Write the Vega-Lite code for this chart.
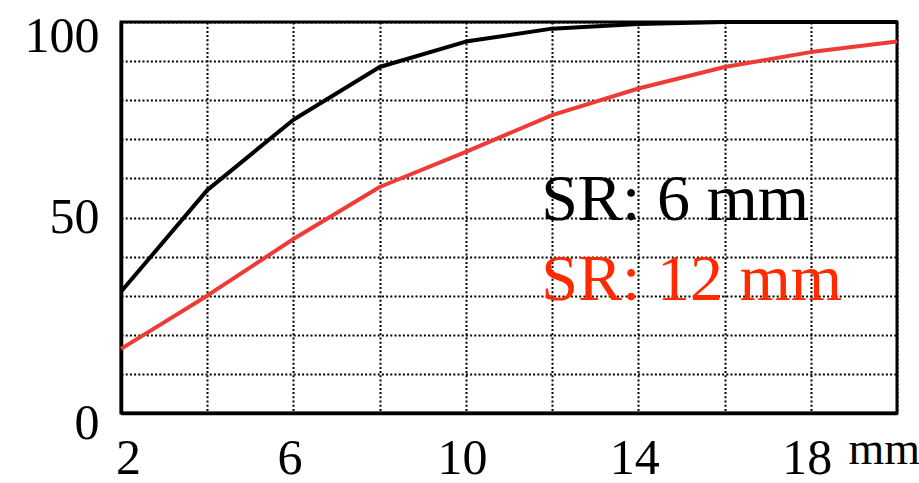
{
  "$schema": "https://vega.github.io/schema/vega-lite/v6.json",
  "autosize": {"type": "none"},
  "width": 776,
  "height": 391,
  "padding": {"left": 121, "top": 22, "right": 22, "bottom": 70},
  "background": "white",
  "config": {
    "view": {"stroke": "black", "strokeWidth": 3},
    "font": "Liberation Serif"
  },
  "datasets": {
    "curves": [
      {"series": "SR: 6 mm", "x": 2, "y": 31},
      {"series": "SR: 6 mm", "x": 4, "y": 57},
      {"series": "SR: 6 mm", "x": 6, "y": 75},
      {"series": "SR: 6 mm", "x": 8, "y": 88.5},
      {"series": "SR: 6 mm", "x": 10, "y": 95},
      {"series": "SR: 6 mm", "x": 12, "y": 98.3},
      {"series": "SR: 6 mm", "x": 14, "y": 99.5},
      {"series": "SR: 6 mm", "x": 16, "y": 100},
      {"series": "SR: 6 mm", "x": 18, "y": 100},
      {"series": "SR: 6 mm", "x": 20, "y": 100},
      {"series": "SR: 12 mm", "x": 2, "y": 16.4},
      {"series": "SR: 12 mm", "x": 4, "y": 30},
      {"series": "SR: 12 mm", "x": 6, "y": 44.5},
      {"series": "SR: 12 mm", "x": 8, "y": 57.8},
      {"series": "SR: 12 mm", "x": 10, "y": 66.8},
      {"series": "SR: 12 mm", "x": 12, "y": 76.2},
      {"series": "SR: 12 mm", "x": 14, "y": 83},
      {"series": "SR: 12 mm", "x": 16, "y": 88.5},
      {"series": "SR: 12 mm", "x": 18, "y": 92.3},
      {"series": "SR: 12 mm", "x": 20, "y": 95}
    ],
    "labels": [
      {"series": "SR: 6 mm", "x": 11.75, "y": 49.4},
      {"series": "SR: 12 mm", "x": 11.75, "y": 29}
    ]
  },
  "encoding": {
    "x": {
      "field": "x", "type": "quantitative",
      "scale": {"domain": [2, 20], "nice": false, "zero": false},
      "axis": {
        "values": [2, 4, 6, 8, 10, 12, 14, 16, 18, 20],
        "labelExpr": "datum.value % 4 == 2 ? datum.label : ''",
        "grid": true, "gridColor": "black", "gridDash": [2, 2.2], "gridWidth": 2, "gridOpacity": 1,
        "domain": true, "domainColor": "black", "domainWidth": 3.5,
        "ticks": false,
        "labelFont": "Liberation Serif", "labelFontSize": 50, "labelColor": "black",
        "labelPadding": 20, "labelFlush": false,
        "labelOffset": {"condition": {"test": "datum.value == 2", "value": 7}, "value": -4},
        "title": "mm", "titleFont": "Liberation Serif", "titleFontSize": 46, "titleFontWeight": "normal",
        "titleColor": "black", "titleAnchor": "end", "titleAlign": "left", "titleBaseline": "alphabetic",
        "titleX": 727, "titleY": 50
      }
    },
    "y": {
      "field": "y", "type": "quantitative",
      "scale": {"domain": [0, 100], "nice": false},
      "axis": {
        "values": [0, 10, 20, 30, 40, 50, 60, 70, 80, 90, 100],
        "labelExpr": "datum.value % 50 == 0 ? datum.label : ''",
        "grid": true, "gridColor": "black", "gridDash": [2, 2.2], "gridWidth": 2, "gridOpacity": 1,
        "domain": true, "domainColor": "black", "domainWidth": 3.5,
        "ticks": false,
        "labelFont": "Liberation Serif", "labelFontSize": 50, "labelColor": "black",
        "labelPadding": 22, "labelFlush": false,
        "labelOffset": {"condition": [{"test": "datum.value == 100", "value": 14}, {"test": "datum.value == 0", "value": 10}], "value": 0},
        "title": null
      }
    }
  },
  "layer": [
    {
      "data": {"name": "curves"},
      "mark": {"type": "line", "strokeWidth": 4, "interpolate": "linear", "strokeJoin": "round"},
      "encoding": {
        "color": {
          "field": "series", "type": "nominal",
          "scale": {"domain": ["SR: 6 mm", "SR: 12 mm"], "range": ["#000000", "#ee3b36"]},
          "legend": null
        }
      }
    },
    {
      "data": {"name": "labels"},
      "mark": {"type": "text", "align": "left", "baseline": "alphabetic", "font": "Liberation Serif", "fontSize": 66},
      "encoding": {
        "text": {"field": "series"},
        "color": {
          "field": "series", "type": "nominal",
          "scale": {"domain": ["SR: 6 mm", "SR: 12 mm"], "range": ["#000000", "#ff2a00"]},
          "legend": null
        }
      }
    }
  ],
  "resolve": {"scale": {"color": "independent"}}
}
